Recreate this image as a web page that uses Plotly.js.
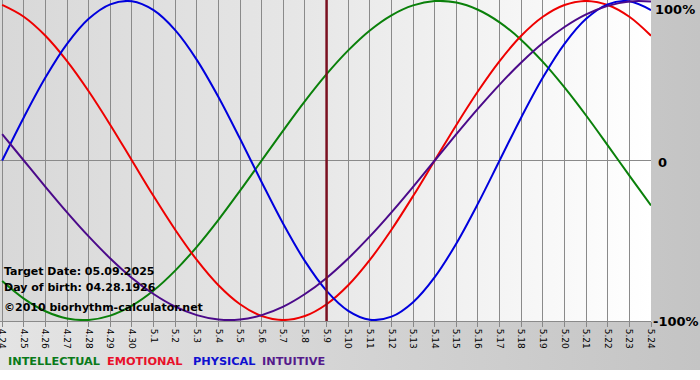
<!DOCTYPE html>
<html>
<head>
<meta charset="utf-8">
<script src="https://cdn.plot.ly/plotly-3.0.1.min.js"></script>
<style>
  html, body { margin: 0; padding: 0; background: #ffffff; }
  #wrap { position: relative; width: 700px; height: 380px; overflow: hidden; background: #ffffff; }
  #outer { position: absolute; left: 0; top: 0; width: 700px; height: 370px;
           background: linear-gradient(to right, #e4e4e4, #c4c4c4); }
  #plotbg { position: absolute; left: 0; top: 0; width: 651px; height: 321px;
            background: linear-gradient(to right, #d8d8d8 0%, #e6e6e6 45%, #ffffff 100%); }
  #chart { position: absolute; left: 0; top: 0; width: 700px; height: 380px; }
</style>
</head>
<body>
<div id="wrap">
  <div id="outer"></div>
  <div id="plotbg"></div>
  <div id="chart"></div>
</div>
<script>
// Day labels (4.24 .. 5.24)
const dayLabels = ['4.24','4.25','4.26','4.27','4.28','4.29','4.30',
  '5.1','5.2','5.3','5.4','5.5','5.6','5.7','5.8','5.9','5.10','5.11','5.12',
  '5.13','5.14','5.15','5.16','5.17','5.18','5.19','5.20','5.21','5.22','5.23','5.24'];
const targetLabel = '5.9';

// Cycle values in percent, one per day
const intellectual = [-75.6,-86.6,-94.5,-99.0,-99.9,-97.2,-91.0,-81.5,-69.0,-54.1,-37.2,-18.9,0,
  18.9,37.2,54.1,69.0,81.5,91.0,97.2,99.9,99.0,94.5,86.6,75.6,61.8,45.8,28.2,9.5,-9.5,-28.2];
const emotional = [97.5,90.1,78.2,62.3,43.4,22.3,0,-22.3,-43.4,-62.3,-78.2,-90.1,-97.5,-100,
  -97.5,-90.1,-78.2,-62.3,-43.4,-22.3,0,22.3,43.4,62.3,78.2,90.1,97.5,100,97.5,90.1,78.2];
const physical = [0,27.0,52.0,73.1,88.8,97.9,99.8,94.2,81.7,63.1,39.8,13.6,-13.6,-39.8,-63.1,
  -81.7,-94.2,-99.8,-97.9,-88.8,-73.1,-52.0,-27.0,0,27.0,52.0,73.1,88.8,97.9,99.8,94.2];
const intuitive = [16.5,0,-16.5,-32.5,-47.6,-61.4,-73.6,-83.7,-91.6,-96.9,-99.7,-99.7,-96.9,
  -91.6,-83.7,-73.6,-61.4,-47.6,-32.5,-16.5,0,16.5,32.5,47.6,61.4,73.6,83.7,91.6,96.9,99.7,99.7];

const seriesNames = ['INTELLECTUAL','EMOTIONAL','PHYSICAL','INTUITIVE'];
const seriesColors = ['#0a800a','#ee0000','#0000dd','#4b0a8a'];
const legendColors = ['#0a7a1a','#e8102a','#1010d0','#551a8b'];
const infoLines = ['Target Date: 05.09.2025','Day of birth: 04.28.1926','\u00a92010 biorhythm-calculator.net'];

const xs = dayLabels.map((d, i) => i);
const allSeries = [intellectual, emotional, physical, intuitive];

const traces = allSeries.map((vals, k) => ({
  x: xs, y: vals, type: 'scatter', mode: 'lines', name: seriesNames[k],
  line: {color: seriesColors[k], width: 2, shape: 'spline', smoothing: 1},
  hoverinfo: 'skip'
}));

const W = 651, H = 321;
const px = v => v / W;
const py = v => (H - v) / H;
const FONT = 'DejaVu Sans, Verdana, sans-serif';

const annotations = [];
const infoY = [271, 287, 307];
infoLines.forEach((t, i) => annotations.push({
  xref: 'paper', yref: 'paper', x: px(2), y: py(infoY[i]), xanchor: 'left', yanchor: 'middle',
  text: '<b>' + t + '</b>', showarrow: false, font: {family: FONT, size: 11, color: '#000'}
}));
[['100%', 653, 9], ['0', 656, 162], ['-100%', 651, 322]].forEach(a => annotations.push({
  xref: 'paper', yref: 'paper', x: px(a[1]), y: py(a[2]), xanchor: 'left', yanchor: 'middle',
  text: '<b>' + a[0] + '</b>', showarrow: false, font: {family: FONT, size: 13, color: '#000'}
}));
const legendX = [6, 105, 191, 260];
seriesNames.forEach((n, k) => annotations.push({
  xref: 'paper', yref: 'paper', x: px(legendX[k]), y: py(361), xanchor: 'left', yanchor: 'middle',
  text: '<b>' + n + '</b>', showarrow: false, font: {family: FONT, size: 11.3, color: legendColors[k]}
}));

const tIdx = dayLabels.indexOf(targetLabel);

const layout = {
  width: 700, height: 380,
  margin: {l: 0, r: 49, t: 0, b: 59, pad: 0},
  paper_bgcolor: 'rgba(0,0,0,0)', plot_bgcolor: 'rgba(0,0,0,0)',
  showlegend: false,
  xaxis: {
    range: [-0.1, 30], tickmode: 'array', tickvals: xs, ticktext: dayLabels,
    tickangle: 90, ticks: 'outside', ticklen: 5, tickcolor: '#888', tickwidth: 1,
    ticklabeloverflow: 'allow',
    showgrid: true, gridcolor: '#8a8a8a', gridwidth: 1, zeroline: false,
    showline: true, linecolor: '#8a8a8a', linewidth: 1, mirror: true,
    tickfont: {family: FONT, size: 9, color: '#000'}, fixedrange: true
  },
  yaxis: {
    range: [-100.6, 100.6], showticklabels: false, showgrid: false,
    zeroline: true, zerolinecolor: '#8a8a8a', zerolinewidth: 1, fixedrange: true
  },
  shapes: [{
    type: 'line', xref: 'x', yref: 'paper', x0: tIdx, x1: tIdx, y0: 0, y1: 1,
    line: {color: '#7a1020', width: 2.5}
  }],
  annotations: annotations
};

Plotly.newPlot('chart', traces, layout, {displayModeBar: false, staticPlot: true});
</script>
</body>
</html>
